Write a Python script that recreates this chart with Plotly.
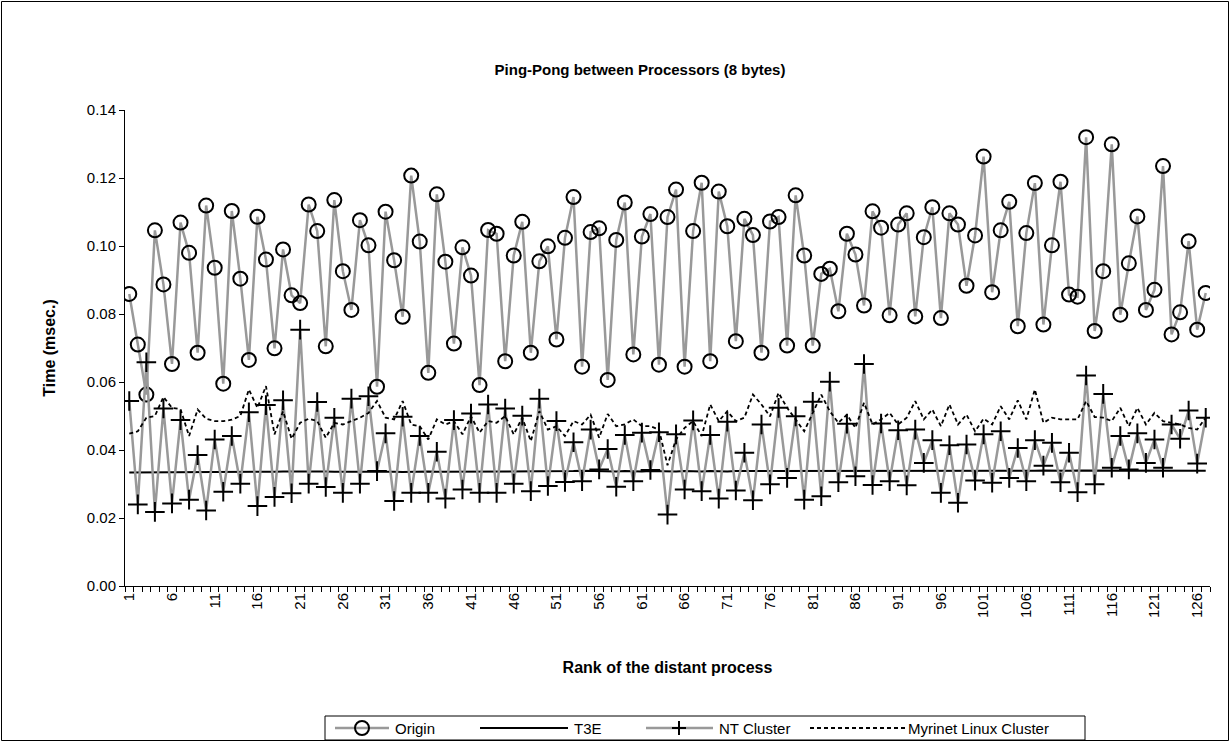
import plotly.graph_objects as go

# Rank of the distant process (1..127)
ranks = list(range(1, 128))

origin = [
    0.0859, 0.0710, 0.0563, 0.1046, 0.0887, 0.0653, 0.1069, 0.0980, 0.0686, 0.1119,
    0.0936, 0.0595, 0.1103, 0.0904, 0.0665, 0.1086, 0.0960, 0.0699, 0.0990, 0.0855,
    0.0832, 0.1122, 0.1044, 0.0705, 0.1135, 0.0926, 0.0812, 0.1076, 0.1002, 0.0586,
    0.1101, 0.0958, 0.0792, 0.1207, 0.1013, 0.0627, 0.1152, 0.0954, 0.0713, 0.0996,
    0.0913, 0.0591, 0.1047, 0.1036, 0.0661, 0.0972, 0.1071, 0.0686, 0.0955, 0.0999,
    0.0725, 0.1024, 0.1144, 0.0645, 0.1041, 0.1052, 0.0606, 0.1018, 0.1128, 0.0681,
    0.1028, 0.1094, 0.0651, 0.1085, 0.1166, 0.0645, 0.1044, 0.1186, 0.0661, 0.1160,
    0.1058, 0.0720, 0.1080, 0.1032, 0.0686, 0.1072, 0.1085, 0.0707, 0.1149, 0.0972,
    0.0707, 0.0918, 0.0933, 0.0808, 0.1036, 0.0975, 0.0825, 0.1102, 0.1054, 0.0796,
    0.1063, 0.1096, 0.0793, 0.1026, 0.1114, 0.0788, 0.1096, 0.1063, 0.0883, 0.1031,
    0.1263, 0.0864, 0.1046, 0.1130, 0.0764, 0.1038, 0.1185, 0.0769, 0.1002, 0.1189,
    0.0857, 0.0851, 0.1320, 0.0750, 0.0926, 0.1299, 0.0798, 0.0949, 0.1087, 0.0812,
    0.0871, 0.1235, 0.0740, 0.0805, 0.1014, 0.0754, 0.0862,
]

t3e = [
    0.0334, 0.0334, 0.0334, 0.0335, 0.0334, 0.0334, 0.0335, 0.0335, 0.0335, 0.0335,
    0.0335, 0.0335, 0.0336, 0.0335, 0.0336, 0.0336, 0.0336, 0.0336, 0.0337, 0.0336,
    0.0337, 0.0337, 0.0338, 0.0337, 0.0336, 0.0336, 0.0336, 0.0337, 0.0337, 0.0337,
    0.0338, 0.0336, 0.0335, 0.0336, 0.0336, 0.0337, 0.0336, 0.0336, 0.0337, 0.0337,
    0.0336, 0.0336, 0.0337, 0.0337, 0.0336, 0.0337, 0.0337, 0.0336, 0.0337, 0.0337,
    0.0336, 0.0337, 0.0338, 0.0339, 0.0338, 0.0337, 0.0337, 0.0337, 0.0338, 0.0337,
    0.0337, 0.0338, 0.0337, 0.0337, 0.0337, 0.0338, 0.0337, 0.0337, 0.0338, 0.0337,
    0.0337, 0.0338, 0.0338, 0.0338, 0.0337, 0.0337, 0.0338, 0.0338, 0.0338, 0.0339,
    0.0338, 0.0338, 0.0337, 0.0338, 0.0339, 0.0339, 0.0338, 0.0337, 0.0337, 0.0338,
    0.0338, 0.0339, 0.0339, 0.0338, 0.0339, 0.0338, 0.0338, 0.0337, 0.0338, 0.0338,
    0.0339, 0.0338, 0.0338, 0.0339, 0.0338, 0.0338, 0.0339, 0.0340, 0.0339, 0.0339,
    0.0339, 0.0340, 0.0340, 0.0339, 0.0339, 0.0338, 0.0339, 0.0340, 0.0340, 0.0339,
    0.0339, 0.0339, 0.0338, 0.0338, 0.0339, 0.0339, 0.0339,
]

nt_cluster = [
    0.0544, 0.0240, 0.0658, 0.0218, 0.0522, 0.0243, 0.0488, 0.0254, 0.0385, 0.0222,
    0.0431, 0.0277, 0.0441, 0.0301, 0.0511, 0.0235, 0.0532, 0.0262, 0.0546, 0.0273,
    0.0754, 0.0301, 0.0541, 0.0291, 0.0495, 0.0274, 0.0551, 0.0301, 0.0558, 0.0338,
    0.0449, 0.0250, 0.0498, 0.0274, 0.0441, 0.0274, 0.0395, 0.0257, 0.0488, 0.0284,
    0.0507, 0.0274, 0.0534, 0.0274, 0.0522, 0.0301, 0.0501, 0.0279, 0.0551, 0.0294,
    0.0485, 0.0306, 0.0423, 0.0308, 0.0460, 0.0343, 0.0403, 0.0292, 0.0444, 0.0308,
    0.0451, 0.0341, 0.0452, 0.0210, 0.0446, 0.0284, 0.0487, 0.0279, 0.0444, 0.0257,
    0.0483, 0.0281, 0.0392, 0.0252, 0.0475, 0.0299, 0.0524, 0.0318, 0.0499, 0.0254,
    0.0542, 0.0264, 0.0601, 0.0305, 0.0477, 0.0323, 0.0653, 0.0297, 0.0478, 0.0308,
    0.0458, 0.0296, 0.0460, 0.0362, 0.0429, 0.0274, 0.0414, 0.0245, 0.0416, 0.0310,
    0.0446, 0.0304, 0.0455, 0.0318, 0.0406, 0.0308, 0.0429, 0.0354, 0.0421, 0.0305,
    0.0392, 0.0276, 0.0619, 0.0299, 0.0565, 0.0348, 0.0441, 0.0343, 0.0449, 0.0362,
    0.0431, 0.0348, 0.0475, 0.0433, 0.0516, 0.0360, 0.0495,
]

myrinet = [
    0.0448, 0.0455, 0.0495, 0.0500, 0.0556, 0.0524, 0.0520, 0.0441, 0.0519, 0.0492,
    0.0485, 0.0485, 0.0489, 0.0500, 0.0578, 0.0524, 0.0588, 0.0446, 0.0514, 0.0433,
    0.0480, 0.0492, 0.0485, 0.0436, 0.0480, 0.0475, 0.0485, 0.0495, 0.0509, 0.0544,
    0.0495, 0.0490, 0.0544, 0.0475, 0.0470, 0.0431, 0.0490, 0.0475, 0.0485, 0.0446,
    0.0499, 0.0451, 0.0485, 0.0480, 0.0500, 0.0446, 0.0495, 0.0426, 0.0514, 0.0460,
    0.0470, 0.0441, 0.0485, 0.0475, 0.0504, 0.0436, 0.0506, 0.0470, 0.0475, 0.0490,
    0.0470, 0.0470, 0.0460, 0.0355, 0.0431, 0.0465, 0.0485, 0.0441, 0.0534, 0.0485,
    0.0514, 0.0485, 0.0495, 0.0563, 0.0534, 0.0499, 0.0568, 0.0524, 0.0490, 0.0455,
    0.0509, 0.0563, 0.0514, 0.0480, 0.0504, 0.0465, 0.0539, 0.0475, 0.0490, 0.0509,
    0.0475, 0.0495, 0.0544, 0.0490, 0.0519, 0.0470, 0.0534, 0.0475, 0.0504, 0.0455,
    0.0492, 0.0475, 0.0529, 0.0490, 0.0546, 0.0490, 0.0578, 0.0480, 0.0495, 0.0490,
    0.0490, 0.0490, 0.0544, 0.0497, 0.0495, 0.0485, 0.0524, 0.0470, 0.0524, 0.0475,
    0.0509, 0.0485, 0.0480, 0.0475, 0.0465, 0.0460, 0.0495,
]

tick_ranks = list(range(1, 128, 5))
tick_labels = [str(r) for r in tick_ranks]
series_names = ["Origin", "T3E", "NT Cluster", "Myrinet Linux Cluster"]

W, H = 1231, 742
ML, MR, MT, MB = 125, 21, 110, 156
FONT = "Arial, Liberation Sans, sans-serif"
GRAY = "#999999"
DASH = "4px,3px"

pw = W - ML - MR
ph = H - MT - MB


def px(x):
    """pixel column -> paper x"""
    return (x - ML) / pw


def py(y):
    """pixel row -> paper y"""
    return (H - MB - y) / ph


fig = go.Figure()
fig.add_trace(go.Scatter(
    x=ranks, y=origin, name=series_names[0], mode="lines+markers",
    line=dict(color=GRAY, width=2.5),
    marker=dict(symbol="circle-open", size=14, color="black", line=dict(width=2, color="black")),
))
fig.add_trace(go.Scatter(
    x=ranks, y=t3e, name=series_names[1], mode="lines",
    line=dict(color="black", width=2),
))
fig.add_trace(go.Scatter(
    x=ranks, y=nt_cluster, name=series_names[2], mode="lines+markers",
    line=dict(color=GRAY, width=2.5),
    marker=dict(symbol="cross-thin", size=14, color="black", line=dict(width=2, color="black")),
))
fig.add_trace(go.Scatter(
    x=ranks, y=myrinet, name=series_names[3], mode="lines",
    line=dict(color="black", width=1.8, dash=DASH),
))

shapes = []
annotations = []

# outer frame around the whole chart
shapes.append(dict(type="rect", xref="paper", yref="paper",
                   x0=px(1.5), x1=px(W - 2.5), y0=py(H - 1.5), y1=py(1.5),
                   line=dict(color="black", width=1), fillcolor="rgba(0,0,0,0)", layer="below"))

# legend box at the bottom
LY = 728
shapes.append(dict(type="rect", xref="paper", yref="paper",
                   x0=px(325), x1=px(1085), y0=py(LY + 12), y1=py(LY - 12),
                   line=dict(color="black", width=1), fillcolor="white", layer="above"))


def seg(x0, x1, color, width, dash=None):
    ln = dict(color=color, width=width)
    if dash:
        ln["dash"] = dash
    shapes.append(dict(type="line", xref="paper", yref="paper",
                       x0=px(x0), x1=px(x1), y0=py(LY), y1=py(LY), line=ln, layer="above"))


def label(x, text):
    annotations.append(dict(x=px(x), y=py(LY), xref="paper", yref="paper", text=text,
                            showarrow=False, xanchor="left", yanchor="middle",
                            font=dict(size=15, family=FONT, color="black")))


# Origin entry: gray line with open circle
seg(335, 389, GRAY, 2.5)
shapes.append(dict(type="circle", xref="paper", yref="paper",
                   x0=px(362 - 7), x1=px(362 + 7), y0=py(LY + 7), y1=py(LY - 7),
                   line=dict(color="black", width=2), fillcolor="rgba(0,0,0,0)", layer="above"))
label(393, series_names[0])

# T3E entry: solid black line
seg(480, 568, "black", 2)
label(572, series_names[1])

# NT Cluster entry: gray line with a cross
seg(646, 713, GRAY, 2.5)
for (ax0, ay0, ax1, ay1) in [(679 - 7, LY, 679 + 7, LY), (679, LY - 7, 679, LY + 7)]:
    shapes.append(dict(type="line", xref="paper", yref="paper",
                       x0=px(ax0), x1=px(ax1), y0=py(ay0), y1=py(ay1),
                       line=dict(color="black", width=2), layer="above"))
label(717, series_names[2])

# Myrinet Linux Cluster entry: dashed black line
seg(810, 905, "black", 1.8, DASH)
label(906, series_names[3])

fig.update_layout(
    width=W, height=H,
    margin=dict(l=ML, r=MR, t=MT, b=MB),
    paper_bgcolor="white", plot_bgcolor="white",
    font=dict(family=FONT, size=14, color="black"),
    title=dict(text="<b>Ping-Pong between Processors (8 bytes)</b>",
               x=px(640), xref="paper", xanchor="center",
               y=1 - 70 / H, yanchor="middle",
               font=dict(size=15, family=FONT)),
    showlegend=False,
    shapes=shapes,
    annotations=annotations,
)

fig.update_xaxes(
    range=[0.5, 127.5], tickmode="array", tickvals=tick_ranks, ticktext=tick_labels,
    tickangle=-90, ticks="", showgrid=False, zeroline=False,
    showline=True, linecolor="black", linewidth=1,
    tickfont=dict(size=15, family=FONT),
    minor=dict(tickmode="linear", tick0=0.5, dtick=1, ticks="outside", ticklen=5,
               tickcolor="black", showgrid=False),
    title=dict(text="<b>Rank of the distant process</b>", font=dict(size=16, family=FONT), standoff=44),
)
fig.update_yaxes(
    range=[0, 0.14], tickmode="linear", tick0=0, dtick=0.02, tickformat=".2f",
    ticks="outside", ticklen=5, tickcolor="black", showgrid=False, zeroline=False,
    showline=True, linecolor="black", linewidth=1,
    tickfont=dict(size=15, family=FONT),
    title=dict(text="<b>Time (msec.)</b>", font=dict(size=16, family=FONT), standoff=27),
)

fig.write_html("out.html")
